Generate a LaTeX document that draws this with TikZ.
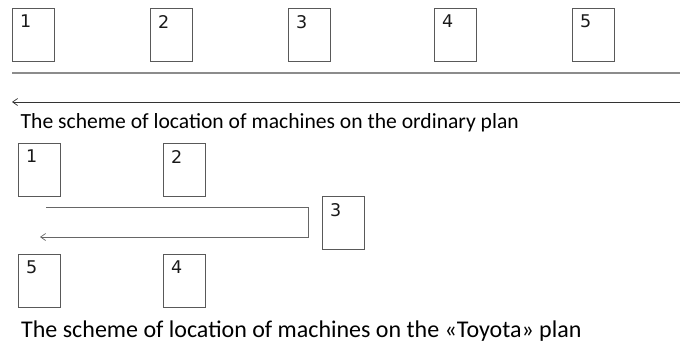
\documentclass[tikz,border=0pt]{standalone}
\usepackage{fontspec}
\setmainfont{Carlito}
\newfontfamily\digitfont{DejaVu Sans}
\usetikzlibrary{arrows.meta}
\begin{document}
\begin{tikzpicture}[x=1pt,y=-1pt,
  machine/.style={draw=black!65,line width=0.9pt,minimum width=42pt,minimum height=53pt,inner sep=0pt,anchor=north west},
  num/.style={font=\digitfont\fontsize{17.5}{17.5}\selectfont,anchor=north west,inner sep=0pt,text=black!90},
  caption/.style={anchor=base west,inner sep=0pt},
  flow/.style={-{Straight Barb[length=5pt,width=7pt,line width=0.7pt]},line width=0.8pt}]
\useasboundingbox (0,0) rectangle (680,345);
% ordinary plan
\foreach \i/\x in {1/12,2/150,3/288,4/434,5/572}{
  \node[machine] (a\i) at (\x,8) {};
  \node[num] (an\i) at (\x+8,15) {\i};
}
\coordinate (g1) at (12,73);
\coordinate (g2) at (680,73);
\draw[black!45,line width=1.3pt] (g1) -- (g2);
\coordinate (f1) at (680,102);
\coordinate (f2) at (12,102);
\draw[flow,black!80] (f1) -- (f2);
\node[caption,font=\fontsize{21.6}{22}\selectfont] (c1) at (20.5,128.7) {The scheme of location of machines on the ordinary plan};
% Toyota plan
\node[machine] (b1) at (18,143) {};
\node[num] at (26,150) {1};
\node[machine] (b2) at (163,143) {};
\node[num] at (171,150) {2};
\node[machine] (b3) at (322,196) {};
\node[num] at (330,203) {3};
\node[machine] (b5) at (18,254) {};
\node[num] at (26,261) {5};
\node[machine] (b4) at (163,254) {};
\node[num] at (171,261) {4};
\coordinate (p1) at (46,207);
\coordinate (p2) at (308,207);
\coordinate (p3) at (308,237);
\coordinate (p4) at (40,237);
\draw[flow,black!60] (p1) -- (p2) -- (p3) -- (p4);
\node[caption,font=\fontsize{24}{24}\selectfont] (c2) at (21,337.7) {The scheme of location of machines on the «Toyota» plan};
\end{tikzpicture}
\end{document}
